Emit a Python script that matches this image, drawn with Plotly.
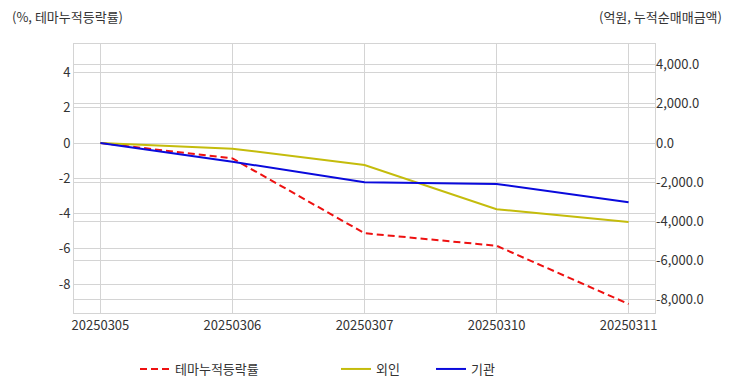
import plotly.graph_objects as go

dates = ["20250305", "20250306", "20250307", "20250310", "20250311"]
theme_rate = [0.0, -0.87, -5.11, -5.82, -9.12]
foreign_net = [0.0, -290.0, -1120.0, -3380.0, -4030.0]
inst_net = [0.0, -955.0, -2005.0, -2090.0, -3025.0]

left_ticks = [-8, -6, -4, -2, 0, 2, 4]
right_ticks = [-8000, -6000, -4000, -2000, 0, 2000, 4000]
left_labels = [str(v) for v in left_ticks]
right_labels = [f"{v:,.1f}" for v in right_ticks]

FONT = "Noto Sans CJK KR, Noto Sans, sans-serif"
GRID = "#d4d4d4"

# page body has an 8px margin; figure is sized to compensate
W, H = 716, 376
OFF = 8

fig = go.Figure()
fig.add_trace(go.Scatter(x=dates, y=theme_rate, name="테마누적등락률", mode="lines",
                         line=dict(color="#ee1111", width=2, dash="7px,4px"), yaxis="y",
                         legend="legend"))
fig.add_trace(go.Scatter(x=dates, y=foreign_net, name="외인", mode="lines",
                         line=dict(color="#c4bc0c", width=2), yaxis="y2", legend="legend2"))
fig.add_trace(go.Scatter(x=dates, y=inst_net, name="기관", mode="lines",
                         line=dict(color="#0a0adc", width=2), yaxis="y2", legend="legend3"))

leg = dict(orientation="h", xref="container", yref="container", y=1 - (369 - OFF) / H,
           yanchor="middle", xanchor="left", font=dict(size=13, color="#333"),
           bgcolor="rgba(0,0,0,0)")
fig.update_layout(
    width=W, height=H,
    margin=dict(l=74 - OFF, r=W - (655 - OFF), t=44 - OFF, b=H - (313 - OFF), autoexpand=False),
    paper_bgcolor="white", plot_bgcolor="white",
    font=dict(family=FONT, size=13, color="#333"),
    xaxis=dict(type="category", range=[-0.2, 4.2], showgrid=True, gridcolor=GRID,
               showline=True, linecolor=GRID, mirror=True, ticks="", tickfont=dict(size=13)),
    yaxis=dict(range=[-9.63, 5.61], tickvals=left_ticks, ticktext=left_labels, showgrid=True,
               gridcolor=GRID, zeroline=False, showline=True, linecolor=GRID, mirror=True,
               ticks="", tickfont=dict(size=13)),
    yaxis2=dict(range=[-8673, 5051], tickvals=right_ticks, ticktext=right_labels,
                overlaying="y", side="right", showgrid=True, gridcolor=GRID, zeroline=False,
                ticks="", tickfont=dict(size=13)),
    legend=dict(leg, x=(135 - OFF) / W),
    legend2=dict(leg, x=(336 - OFF) / W),
    legend3=dict(leg, x=(431 - OFF) / W),
    showlegend=True,
)
fig.add_annotation(text="(%, 테마누적등락률)", xref="paper", yref="paper",
                   x=-64 / 581, y=1 + 28 / 269, xanchor="left", yanchor="middle",
                   showarrow=False, font=dict(size=13, color="#333"))
fig.add_annotation(text="(억원, 누적순매매금액)", xref="paper", yref="paper",
                   x=1 + (724 - 655) / 581, y=1 + 28 / 269, xanchor="right", yanchor="middle",
                   showarrow=False, font=dict(size=13, color="#333"))
fig.write_html("out.html")
